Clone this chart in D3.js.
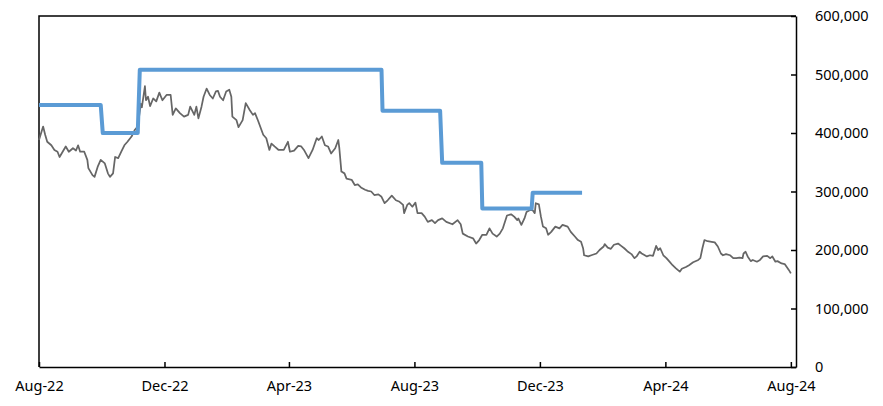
<!DOCTYPE html>
<html>
<head>
<meta charset="utf-8">
<script src="https://cdn.jsdelivr.net/npm/d3@7"></script>
<style>
    body { margin: 0; background: #fff; }
    svg { display: block; font-family: "Noto Sans", "Open Sans", sans-serif; }
</style>
</head>
<body>
<div id="chart"></div>
<script>
const width = 883
const height = 406

// plot box
const left = 39
const right = 796
const top_ = 16
const bottom = 367

const xStart = "2022-08-01"
const xEnd = "2024-08-06"
const xTicks = ["2022-08-01", "2022-12-01", "2023-04-01", "2023-08-01", "2023-12-01", "2024-04-01", "2024-08-01"]
const yTicks = [0, 100000, 200000, 300000, 400000, 500000, 600000]

// grey series, values in thousands
const price = [
    ["2022-08-01", 388], ["2022-08-05", 411], ["2022-08-07", 397], ["2022-08-09", 385],
    ["2022-08-13", 379], ["2022-08-16", 371], ["2022-08-19", 368], ["2022-08-21", 359],
    ["2022-08-24", 368], ["2022-08-27", 377], ["2022-08-30", 368], ["2022-09-03", 374],
    ["2022-09-06", 370], ["2022-09-08", 379], ["2022-09-10", 368], ["2022-09-14", 368],
    ["2022-09-17", 354], ["2022-09-18", 340], ["2022-09-22", 328], ["2022-09-24", 325],
    ["2022-09-27", 342], ["2022-09-30", 354], ["2022-10-04", 348], ["2022-10-07", 331],
    ["2022-10-09", 325], ["2022-10-12", 331], ["2022-10-14", 359], ["2022-10-17", 357],
    ["2022-10-20", 368], ["2022-10-23", 379], ["2022-10-26", 385], ["2022-10-30", 394],
    ["2022-11-02", 405], ["2022-11-05", 411], ["2022-11-08", 450], ["2022-11-09", 444],
    ["2022-11-12", 480], ["2022-11-13", 456], ["2022-11-15", 462], ["2022-11-17", 446],
    ["2022-11-20", 459], ["2022-11-23", 454], ["2022-11-26", 469], ["2022-11-29", 456],
    ["2022-12-03", 465], ["2022-12-07", 465], ["2022-12-09", 431], ["2022-12-12", 442],
    ["2022-12-16", 434], ["2022-12-20", 428], ["2022-12-24", 431], ["2022-12-26", 445],
    ["2022-12-30", 431], ["2023-01-01", 445], ["2023-01-03", 425], ["2023-01-06", 445],
    ["2023-01-08", 462], ["2023-01-11", 476], ["2023-01-14", 465], ["2023-01-17", 459],
    ["2023-01-20", 471], ["2023-01-22", 472], ["2023-01-24", 462], ["2023-01-27", 456],
    ["2023-01-30", 471], ["2023-02-02", 474], ["2023-02-04", 462], ["2023-02-05", 428],
    ["2023-02-09", 422], ["2023-02-11", 410], ["2023-02-15", 422], ["2023-02-18", 451],
    ["2023-02-22", 439], ["2023-02-25", 431], ["2023-02-27", 434], ["2023-03-02", 421],
    ["2023-03-07", 397], ["2023-03-10", 391], ["2023-03-13", 371], ["2023-03-15", 382],
    ["2023-03-18", 377], ["2023-03-22", 371], ["2023-03-27", 371], ["2023-03-31", 385],
    ["2023-04-02", 368], ["2023-04-06", 370], ["2023-04-10", 378], ["2023-04-13", 377],
    ["2023-04-16", 370], ["2023-04-20", 357], ["2023-04-24", 371], ["2023-04-28", 391],
    ["2023-04-30", 388], ["2023-05-03", 394], ["2023-05-06", 379], ["2023-05-09", 377],
    ["2023-05-12", 365], ["2023-05-16", 374], ["2023-05-19", 388], ["2023-05-20", 374],
    ["2023-05-22", 334], ["2023-05-25", 331], ["2023-05-27", 322], ["2023-06-01", 320],
    ["2023-06-04", 311], ["2023-06-07", 312], ["2023-06-10", 307], ["2023-06-14", 303],
    ["2023-06-17", 301], ["2023-06-20", 300], ["2023-06-23", 294], ["2023-06-27", 295],
    ["2023-06-30", 291], ["2023-07-03", 280], ["2023-07-06", 285], ["2023-07-10", 293],
    ["2023-07-14", 285], ["2023-07-17", 283], ["2023-07-21", 277], ["2023-07-22", 263],
    ["2023-07-25", 277], ["2023-07-27", 280], ["2023-07-30", 274], ["2023-08-02", 281],
    ["2023-08-04", 263], ["2023-08-08", 263], ["2023-08-11", 257], ["2023-08-14", 248],
    ["2023-08-18", 251], ["2023-08-21", 246], ["2023-08-24", 251], ["2023-08-28", 254],
    ["2023-09-01", 248], ["2023-09-07", 244], ["2023-09-12", 251], ["2023-09-15", 244],
    ["2023-09-17", 228], ["2023-09-22", 223], ["2023-09-27", 220], ["2023-09-30", 211],
    ["2023-10-03", 217], ["2023-10-06", 226], ["2023-10-10", 226], ["2023-10-13", 237],
    ["2023-10-16", 228], ["2023-10-20", 223], ["2023-10-23", 228], ["2023-10-26", 237],
    ["2023-10-30", 259], ["2023-11-03", 261], ["2023-11-06", 257], ["2023-11-09", 251],
    ["2023-11-10", 254], ["2023-11-13", 243], ["2023-11-16", 254], ["2023-11-18", 265],
    ["2023-11-21", 268], ["2023-11-24", 268], ["2023-11-26", 263], ["2023-11-27", 280],
    ["2023-11-30", 278], ["2023-12-02", 257], ["2023-12-04", 240], ["2023-12-07", 237],
    ["2023-12-09", 226], ["2023-12-12", 231], ["2023-12-16", 240], ["2023-12-20", 237],
    ["2023-12-23", 243], ["2023-12-28", 240], ["2023-12-31", 231], ["2024-01-04", 223],
    ["2024-01-07", 217], ["2024-01-10", 214], ["2024-01-12", 203], ["2024-01-13", 191],
    ["2024-01-17", 189], ["2024-01-20", 191], ["2024-01-25", 194], ["2024-01-28", 200],
    ["2024-02-01", 206], ["2024-02-02", 210], ["2024-02-05", 204], ["2024-02-08", 202],
    ["2024-02-11", 209], ["2024-02-15", 211], ["2024-02-18", 207], ["2024-02-21", 203],
    ["2024-02-24", 198], ["2024-02-28", 193], ["2024-03-02", 186], ["2024-03-04", 189],
    ["2024-03-07", 197], ["2024-03-09", 194], ["2024-03-12", 191], ["2024-03-14", 189],
    ["2024-03-17", 191], ["2024-03-20", 190], ["2024-03-23", 207], ["2024-03-25", 200],
    ["2024-03-27", 203], ["2024-03-30", 191], ["2024-04-02", 186], ["2024-04-05", 180],
    ["2024-04-08", 174], ["2024-04-11", 169], ["2024-04-15", 163], ["2024-04-17", 168],
    ["2024-04-21", 171], ["2024-04-24", 174], ["2024-04-28", 179], ["2024-05-03", 183],
    ["2024-05-05", 186], ["2024-05-07", 203], ["2024-05-09", 217], ["2024-05-12", 215],
    ["2024-05-16", 214], ["2024-05-19", 213], ["2024-05-22", 206], ["2024-05-25", 194],
    ["2024-05-27", 191], ["2024-05-30", 193], ["2024-06-03", 191], ["2024-06-06", 186],
    ["2024-06-09", 186], ["2024-06-12", 187], ["2024-06-15", 186], ["2024-06-16", 194],
    ["2024-06-18", 197], ["2024-06-20", 189], ["2024-06-23", 181], ["2024-06-25", 183],
    ["2024-06-29", 180], ["2024-07-02", 183], ["2024-07-05", 189], ["2024-07-09", 190],
    ["2024-07-12", 186], ["2024-07-14", 189], ["2024-07-17", 180], ["2024-07-19", 181],
    ["2024-07-23", 177], ["2024-07-26", 176], ["2024-07-28", 171], ["2024-07-30", 166],
    ["2024-08-01", 160]
]

// blue step series, values in thousands
const target = [
    ["2022-08-01", 448], ["2022-09-30", 448], ["2022-10-02", 400], ["2022-11-05", 400],
    ["2022-11-07", 508], ["2023-06-30", 508], ["2023-07-01", 438], ["2023-08-26", 438],
    ["2023-08-28", 349], ["2023-10-05", 349], ["2023-10-06", 271], ["2023-11-23", 271],
    ["2023-11-24", 298], ["2024-01-11", 298]
]

const parse = d3.utcParse("%Y-%m-%d")
const fmtDate = d3.utcFormat("%b-%y")

const x = d3.scaleUtc().domain([parse(xStart), parse(xEnd)]).range([left, right])
const y = d3.scaleLinear().domain([0, 600000]).range([bottom, top_])

const line = d3.line()
    .x(d => x(parse(d[0])))
    .y(d => y(d[1] * 1000))

const svg = d3.select("#chart").append("svg")
    .attr("width", width)
    .attr("height", height)

// border top + left
svg.append("path")
    .attr("d", `M${left},${bottom}V${top_}H${right}`)
    .attr("fill", "none")
    .attr("stroke", "#000")
    .attr("stroke-width", 1.5)

// bottom axis, ticks pointing up
const xAxis = svg.append("g")
    .attr("transform", `translate(0,${bottom})`)
    .call(d3.axisBottom(x)
        .tickValues(xTicks.map(parse))
        .tickFormat(fmtDate)
        .tickSizeInner(-5)
        .tickSizeOuter(0)
        .tickPadding(14))
xAxis.select(".domain").attr("stroke-width", 1.5)
xAxis.selectAll(".tick line").attr("stroke-width", 1.5)
xAxis.selectAll("text").attr("font-size", 14.5).attr("fill", "#000")
    .attr("font-family", "Noto Sans, Open Sans, sans-serif")

// right axis, ticks pointing left
const yAxis = svg.append("g")
    .attr("transform", `translate(${right},0)`)
    .call(d3.axisRight(y)
        .tickValues(yTicks)
        .tickFormat(d3.format(","))
        .tickSizeInner(-5)
        .tickSizeOuter(0)
        .tickPadding(19))
yAxis.select(".domain").attr("stroke-width", 1.5)
yAxis.selectAll(".tick line").attr("stroke-width", 1.5)
yAxis.selectAll("text").attr("font-size", 14.5).attr("fill", "#000")
    .attr("font-family", "Noto Sans, Open Sans, sans-serif")

svg.append("path")
    .datum(price)
    .attr("d", line)
    .attr("fill", "none")
    .attr("stroke", "#666666")
    .attr("stroke-width", 1.75)
    .attr("stroke-linejoin", "round")

svg.append("path")
    .datum(target)
    .attr("d", line)
    .attr("fill", "none")
    .attr("stroke", "#5B9BD5")
    .attr("stroke-width", 4)
    .attr("stroke-linejoin", "round")
</script>
</body>
</html>
